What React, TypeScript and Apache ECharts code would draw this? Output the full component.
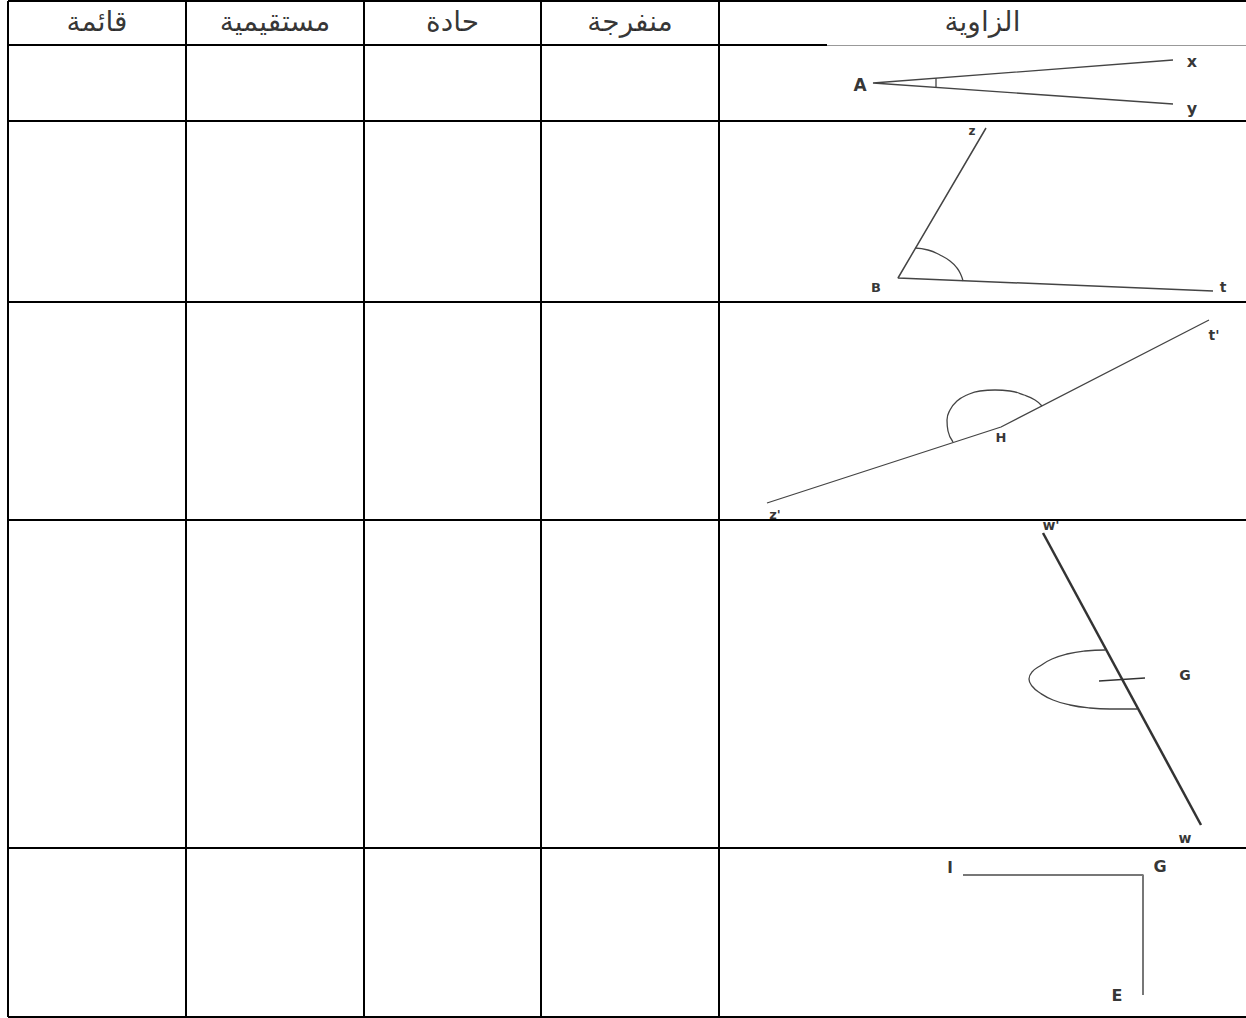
import React, { useEffect, useRef } from "react";
import * as echarts from "echarts";

// Table structure
const headers = ["قائمة", "مستقيمية", "حادة", "منفرجة", "الزاوية"];
const colX = [8, 186, 364, 541, 719, 1246];
const rowY = [1, 45, 121, 302, 520, 848, 1017];

// Angle drawings (in page pixels)
const angleA = [[1173, 60], [873, 83], [1173, 104]];
const tickA = [[936, 78], [936, 88]];
const angleB = [[986, 128], [898, 278], [1213, 291]];
const arcB = [[915, 248], [928, 250], [940, 255], [950, 261], [957, 268], [961, 275], [963, 281]];
const angleH = [[767, 503], [1001, 427], [1209, 320]];
const arcH = [
  [953, 442], [948, 431], [947, 420], [950, 410], [957, 401], [967, 395], [980, 391],
  [995, 390], [1010, 391], [1024, 395], [1035, 400], [1042, 406],
];
const lineW = [[1043, 533], [1201, 825]];
const arcG = [
  [1105, 650], [1085, 651], [1067, 654], [1052, 659], [1040, 666], [1032, 672], [1029, 679],
  [1032, 686], [1040, 693], [1053, 700], [1070, 705], [1090, 708], [1110, 709], [1137, 709],
];
const tickG = [[1099, 681], [1145, 678]];
const angleI = [[963, 875], [1143, 875], [1143, 995]];

// Point labels
const pointLabels = [
  { name: "A", pos: [860, 85], size: 17, bold: true },
  { name: "x", pos: [1192, 61], size: 16, bold: true },
  { name: "y", pos: [1192, 108], size: 16, bold: true },
  { name: "z", pos: [972, 131], size: 12, bold: true },
  { name: "B", pos: [876, 287], size: 13, bold: true },
  { name: "t", pos: [1223, 287], size: 14, bold: true },
  { name: "t'", pos: [1214, 335], size: 14, bold: true },
  { name: "H", pos: [1001, 437], size: 13, bold: true },
  { name: "z'", pos: [775, 514], size: 13, bold: true },
  { name: "w'", pos: [1051, 525], size: 14, bold: true },
  { name: "G", pos: [1185, 675], size: 14, bold: true },
  { name: "w", pos: [1185, 838], size: 14, bold: true },
  { name: "I", pos: [950, 868], size: 15, bold: true },
  { name: "G", pos: [1160, 866], size: 16, bold: true },
  { name: "E", pos: [1117, 995], size: 16, bold: true },
];

function lineSeries(data: number[][], color: string, width: number, smooth = false) {
  return {
    type: "line",
    data,
    symbol: "none",
    smooth,
    silent: true,
    lineStyle: { color, width },
    z: 3,
  };
}

export default function App() {
  const ref = useRef<HTMLDivElement>(null);
  useEffect(() => {
    if (!ref.current) return;
    const chart = echarts.init(ref.current, null, { renderer: "svg" });
    const series: any[] = [];

    // table grid lines
    rowY.forEach((y, i) => {
      if (i === 1) {
        series.push(lineSeries([[colX[0], y], [827, y]], "#000", 2));
        series.push(lineSeries([[827, y + 0.5], [1246, y + 0.5]], "#999", 1.2));
      } else {
        series.push(lineSeries([[colX[0], y], [1246, y]], "#000", 2));
      }
    });
    colX.slice(0, 5).forEach((x) => {
      series.push(lineSeries([[x, rowY[0]], [x, rowY[rowY.length - 1]]], "#000", 2));
    });

    // angles
    series.push(lineSeries(angleA, "#444", 1.3));
    series.push(lineSeries(tickA, "#444", 1.3));
    series.push(lineSeries(angleB, "#444", 1.5));
    series.push(lineSeries(arcB, "#444", 1.3, true));
    series.push(lineSeries(angleH, "#444", 1.3));
    series.push(lineSeries(arcH, "#444", 1.3, true));
    series.push(lineSeries(lineW, "#333", 2.5));
    series.push(lineSeries(arcG, "#444", 1.3, true));
    series.push(lineSeries(tickG, "#333", 1.3));
    series.push(lineSeries(angleI, "#777", 2));

    // headers
    series.push({
      type: "scatter",
      silent: true,
      symbolSize: 1,
      itemStyle: { color: "transparent" },
      data: headers.map((h, i) => ({ name: h, value: [(colX[i] + colX[i + 1]) / 2, 21] })),
      label: {
        show: true,
        position: "inside",
        formatter: (p: any) => p.name,
        color: "#000",
        fontSize: 28,
        fontFamily: "Arial, 'Liberation Sans', 'DejaVu Sans', sans-serif",
      },
      z: 5,
    });

    // point labels
    series.push({
      type: "scatter",
      silent: true,
      symbolSize: 1,
      itemStyle: { color: "transparent" },
      data: pointLabels.map((p) => ({
        name: p.name,
        value: p.pos,
        label: {
          fontSize: p.size,
          fontWeight: p.bold ? "bold" : "normal",
          color: "#000",
          fontFamily: "'DejaVu Sans', Verdana, sans-serif",
        },
      })),
      label: {
        show: true,
        position: "inside",
        formatter: (p: any) => p.name,
        color: "#000",
        fontFamily: "'DejaVu Sans', Verdana, sans-serif",
      },
      z: 5,
    });

    chart.setOption({
      animation: false,
      backgroundColor: "#fff",
      grid: { left: 0, top: 0, width: 1246, height: 1018 },
      xAxis: { type: "value", min: 0, max: 1246, show: false },
      yAxis: { type: "value", min: 0, max: 1018, inverse: true, show: false },
      series,
    });
    return () => chart.dispose();
  }, []);
  return (
    <div
      ref={ref}
      style={{ position: "absolute", left: 0, top: 0, width: 1246, height: 1018 }}
    />
  );
}
